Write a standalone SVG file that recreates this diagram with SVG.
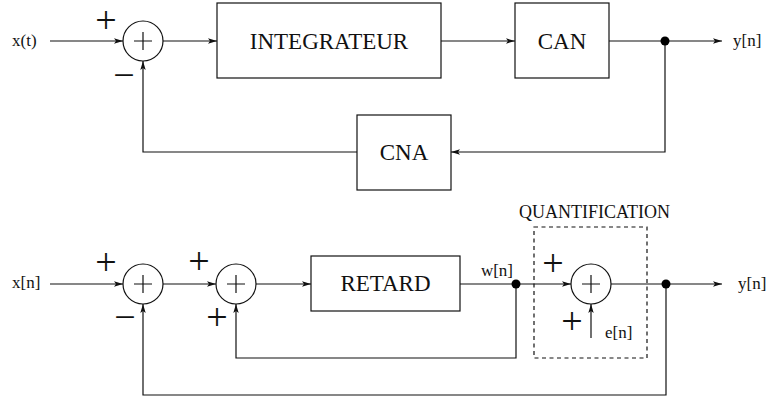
<svg xmlns="http://www.w3.org/2000/svg" width="771" height="399" viewBox="0 0 771 399">
<defs>
<marker id="arr" markerUnits="userSpaceOnUse" markerWidth="10" markerHeight="8" refX="9" refY="3.5" orient="auto">
<path d="M0,0.8 L9,3.5 L0,6.2 L2,3.5 z" fill="#111"/>
</marker>
<style>
.ln{fill:none;stroke:#111;stroke-width:1.2}
.ar{fill:none;stroke:#111;stroke-width:1.2;marker-end:url(#arr)}
.bx{fill:#fff;stroke:#111;stroke-width:1.2}
.sum{fill:#fff;stroke:#111;stroke-width:1.2}
.big{font-family:"Liberation Serif","Times New Roman",serif;font-size:23px;fill:#111;text-anchor:middle}
.lbl{font-family:"Liberation Serif","Times New Roman",serif;font-size:17px;fill:#111}
.sg{font-family:"Liberation Serif","Times New Roman",serif;font-size:38px;fill:#111;text-anchor:middle}
.dot{fill:#000}
</style>
</defs>
<rect width="771" height="399" fill="#fff"/>

<g id="connectors">
<path class="ar" d="M50,41 H123"/>
<path class="ar" d="M163,41 H217"/>
<path class="ar" d="M441,41 H515"/>
<path class="ar" d="M609,41 H722"/>
<path class="ar" d="M665,41 V152 H451"/>
<path class="ar" d="M357,152 H143 V61"/>
<path class="ar" d="M50,284 H123"/>
<path class="ar" d="M163,284 H216"/>
<path class="ar" d="M256,284 H311"/>
<path class="ar" d="M460,284 H571"/>
<path class="ar" d="M611,284 H722"/>
<path class="ar" d="M516,284 V358 H236 V304"/>
<path class="ar" d="M666,284 V395 H143 V304"/>
<path class="ar" d="M591,338 V304"/>
<circle class="dot" cx="665" cy="41" r="4.5"/>
<circle class="dot" cx="516" cy="284" r="4.5"/>
<circle class="dot" cx="666" cy="284" r="4.5"/>
</g>

<g id="labels">
<text class="lbl" x="12" y="46">x(t)</text>
<text class="lbl" x="733" y="46">y[n]</text>
<text class="lbl" x="12" y="288">x[n]</text>
<text class="lbl" x="738" y="289">y[n]</text>
<text class="lbl" x="513" y="276" text-anchor="end">w[n]</text>
<text class="lbl" x="605" y="338">e[n]</text>
<text class="sg" x="106" y="33">+</text>
<text class="sg" x="124" y="88">−</text>
<text class="sg" x="106" y="275">+</text>
<text class="sg" x="199" y="274">+</text>
<text class="sg" x="125" y="330">−</text>
<text class="sg" x="217" y="330">+</text>
<text class="sg" x="553" y="276">+</text>
<text class="sg" x="572" y="334">+</text>
</g>

<g id="sum1">
<circle class="sum" cx="143" cy="41" r="20"/>
<path class="ln" d="M134,41 H152 M143,32 V50"/>
</g>
<g id="integrateur">
<rect class="bx" x="217" y="3" width="224" height="75"/>
<text class="big" x="329" y="49">INTEGRATEUR</text>
</g>
<g id="can">
<rect class="bx" x="515" y="3" width="94" height="75"/>
<text class="big" x="562" y="49">CAN</text>
</g>
<g id="cna">
<rect class="bx" x="357" y="115" width="94" height="75"/>
<text class="big" x="404" y="160">CNA</text>
</g>

<g id="sum2">
<circle class="sum" cx="143" cy="284" r="20"/>
<path class="ln" d="M134,284 H152 M143,275 V293"/>
</g>
<g id="sum3">
<circle class="sum" cx="236" cy="284" r="20"/>
<path class="ln" d="M227,284 H245 M236,275 V293"/>
</g>
<g id="retard">
<rect class="bx" x="311" y="256" width="149" height="55"/>
<text class="big" x="385.5" y="291">RETARD</text>
</g>
<g id="quantification">
<rect x="534" y="227" width="113" height="131" fill="none" stroke="#111" stroke-width="1.2" stroke-dasharray="4,3.5"/>
<text class="lbl" x="594.5" y="218" text-anchor="middle" style="font-size:18px">QUANTIFICATION</text>
<circle class="sum" cx="591" cy="284" r="20"/>
<path class="ln" d="M582,284 H600 M591,275 V293"/>
</g>
</svg>
